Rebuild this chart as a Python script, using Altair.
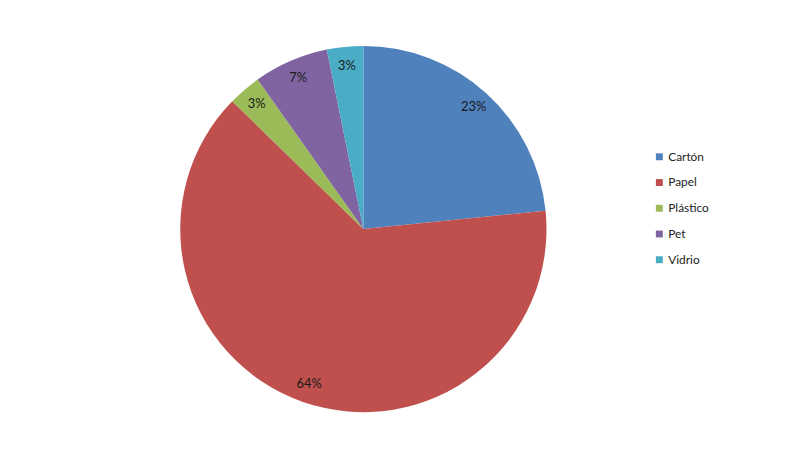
import altair as alt
import pandas as pd

categories = ["Cartón", "Papel", "Plástico", "Pet", "Vidrio"]
values = [23.4, 63.9, 2.9, 6.6, 3.2]
labels = ["23%", "64%", "3%", "7%", "3%"]
colors = ["#4F81BD", "#C0504D", "#9BBB59", "#8064A2", "#4BACC6"]

df = pd.DataFrame({"cat": categories, "val": values, "lab": labels,
                   "ord": list(range(len(categories)))})

cx, cy = 359, 221

base = alt.Chart(df).encode(
    theta=alt.Theta("val:Q", stack=True),
    order=alt.Order("ord:Q"),
)

pie = base.mark_arc(radius=185, stroke="white", strokeWidth=0).encode(
    x=alt.value(cx), y=alt.value(cy),
    color=alt.Color("cat:N", sort=categories,
                    scale=alt.Scale(domain=categories, range=colors),
                    legend=alt.Legend(title=None, orient="none", legendX=652, legendY=142,
                                      symbolType="square", symbolSize=49,
                                      symbolStrokeWidth=0,
                                      labelFont="Lato", labelFontSize=12,
                                      labelColor="#222222", rowPadding=14,
                                      labelOffset=3)),
)

text = base.mark_text(radius=166, font="Lato", fontSize=13, color="#1a1a1a").encode(
    x=alt.value(cx), y=alt.value(cy),
    text="lab:N",
)

chart = (pie + text).properties(
    width=790, height=450,
    autosize=alt.AutoSizeParams(type="none"),
    padding=0,
).configure_view(stroke=None)

chart.save("out.html", embed_options={"renderer": "svg", "actions": False})
